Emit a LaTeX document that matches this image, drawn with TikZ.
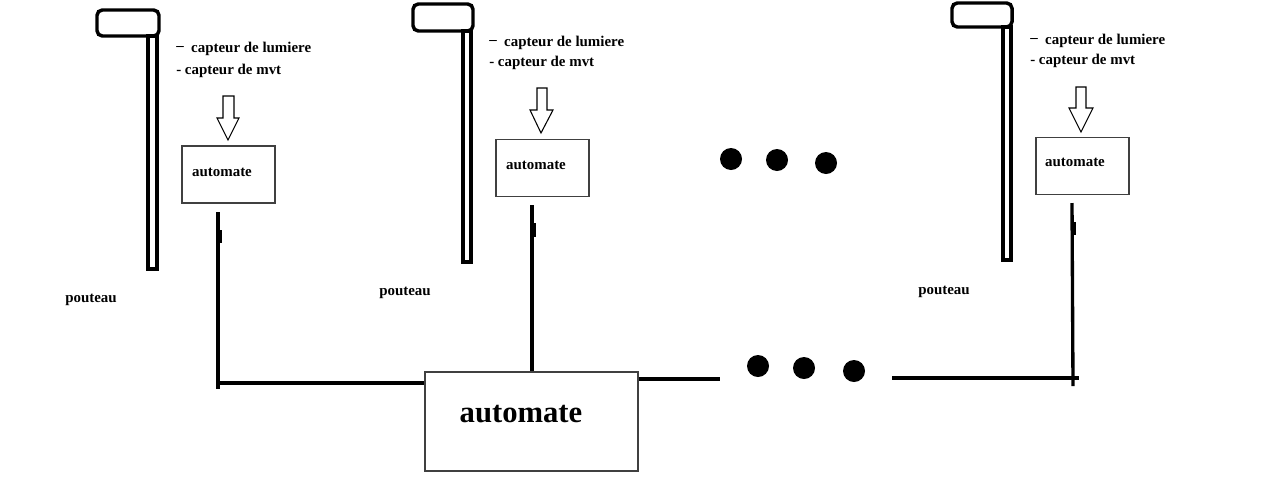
\documentclass[tikz,border=0pt]{standalone}
\usepackage{fontspec}
\setmainfont{Liberation Serif}
\begin{document}
\begin{tikzpicture}[x=0.75pt,y=-0.75pt,
  txt/.style={inner sep=0pt,font=\fontsize{11.2}{13}\selectfont\bfseries},
  bigtxt/.style={inner sep=0pt,font=\fontsize{23}{26}\selectfont\bfseries},
  sbox/.style={draw=black!75,line width=0.9pt,minimum width=93*0.75pt,minimum height=57*0.75pt,inner sep=0pt},
  mbox/.style={draw=black!75,line width=0.9pt,minimum width=213*0.75pt,minimum height=99*0.75pt,inner sep=0pt},
  wire/.style={line width=2.5pt},
  tick/.style={line width=1.2pt},
  pole/.style={line width=2.3pt},
  head/.style={line width=2.6pt,rounded corners=4pt},
  harrow/.style={line width=0.8pt},
  dot/.style={fill=black}]
\useasboundingbox (0,0) rectangle (1280,497);

% poles
\draw[head] (97,10) rectangle (159,36);
\draw[pole] (148,36) rectangle (157,269);
\draw[head] (413,4) rectangle (473,31);
\draw[pole] (463,31) rectangle (471,262);
\draw[head] (952,3) rectangle (1012,27);
\draw[pole] (1003,27) rectangle (1011,260);

% sensor texts
\node[txt,anchor=west] (s1a) at (176,49) {\raisebox{1.5pt}{--}\ \ capteur de lumiere};
\node[txt,anchor=west] (s1b) at (176,71) {- capteur de mvt};
\node[txt,anchor=west] (s2a) at (489,43) {\raisebox{1.5pt}{--}\ \ capteur de lumiere};
\node[txt,anchor=west] (s2b) at (489,63) {- capteur de mvt};
\node[txt,anchor=west] (s3a) at (1030,41) {\raisebox{1.5pt}{--}\ \ capteur de lumiere};
\node[txt,anchor=west] (s3b) at (1030,61) {- capteur de mvt};

% hollow arrows
\draw[harrow] (223,96) -- (234,96) -- (234,118) -- (239,118) -- (228,140) -- (217,118) -- (223,118) -- cycle;
\draw[harrow] (537,88) -- (547,88) -- (547,110) -- (553,110) -- (541,133) -- (530,110) -- (537,110) -- cycle;
\draw[harrow] (1076,87) -- (1086,87) -- (1086,108) -- (1093,108) -- (1081,132) -- (1069,108) -- (1076,108) -- cycle;

% small boxes
\node[sbox] (b1) at (228.5,174.5) {};
\node[txt] (t1) at (222,172) {automate};
\node[sbox] (b2) at (542.5,168) {};
\node[txt] (t2) at (536,165) {automate};
\node[sbox] (b3) at (1082.5,166) {};
\node[txt] (t3) at (1075,162) {automate};

% main box
\node[mbox] (m) at (531.5,421.5) {};
\node[bigtxt] (mt) at (521,414) {automate};

% pouteau labels
\node[txt] (p1) at (91,300) {pouteau};
\node[txt] (p2) at (405,293) {pouteau};
\node[txt] (p3) at (944,292) {pouteau};

% wires
\coordinate (w1t) at (218,212);
\coordinate (w1b) at (218,389);
\coordinate (w1c) at (218,383);
\draw[wire] (w1t) -- (w1b);
\draw[wire] (w1c) -- (m.west |- w1c);
\draw[tick] (221,230) -- (221,243);

\coordinate (w2t) at (532,205);
\draw[wire] (w2t) -- (w2t |- m.north);
\draw[tick] (535,223) -- (535,237);

\coordinate (w3a) at (720,379);
\draw[wire] (m.east |- w3a) -- (w3a);
\coordinate (w4a) at (892,378);
\coordinate (w4b) at (1079,378);
\draw[wire] (w4a) -- (w4b);
\coordinate (w5t) at (1072,203);
\coordinate (w5b) at (1073,386);
\draw[wire] (w5t) -- (w5b);
\draw[tick] (1075,222) -- (1075,235);

% dots
\fill[dot] (731,159) circle (11);
\fill[dot] (777,160) circle (11);
\fill[dot] (826,163) circle (11);
\fill[dot] (758,366) circle (11);
\fill[dot] (804,368) circle (11);
\fill[dot] (854,371) circle (11);
\end{tikzpicture}
\end{document}
